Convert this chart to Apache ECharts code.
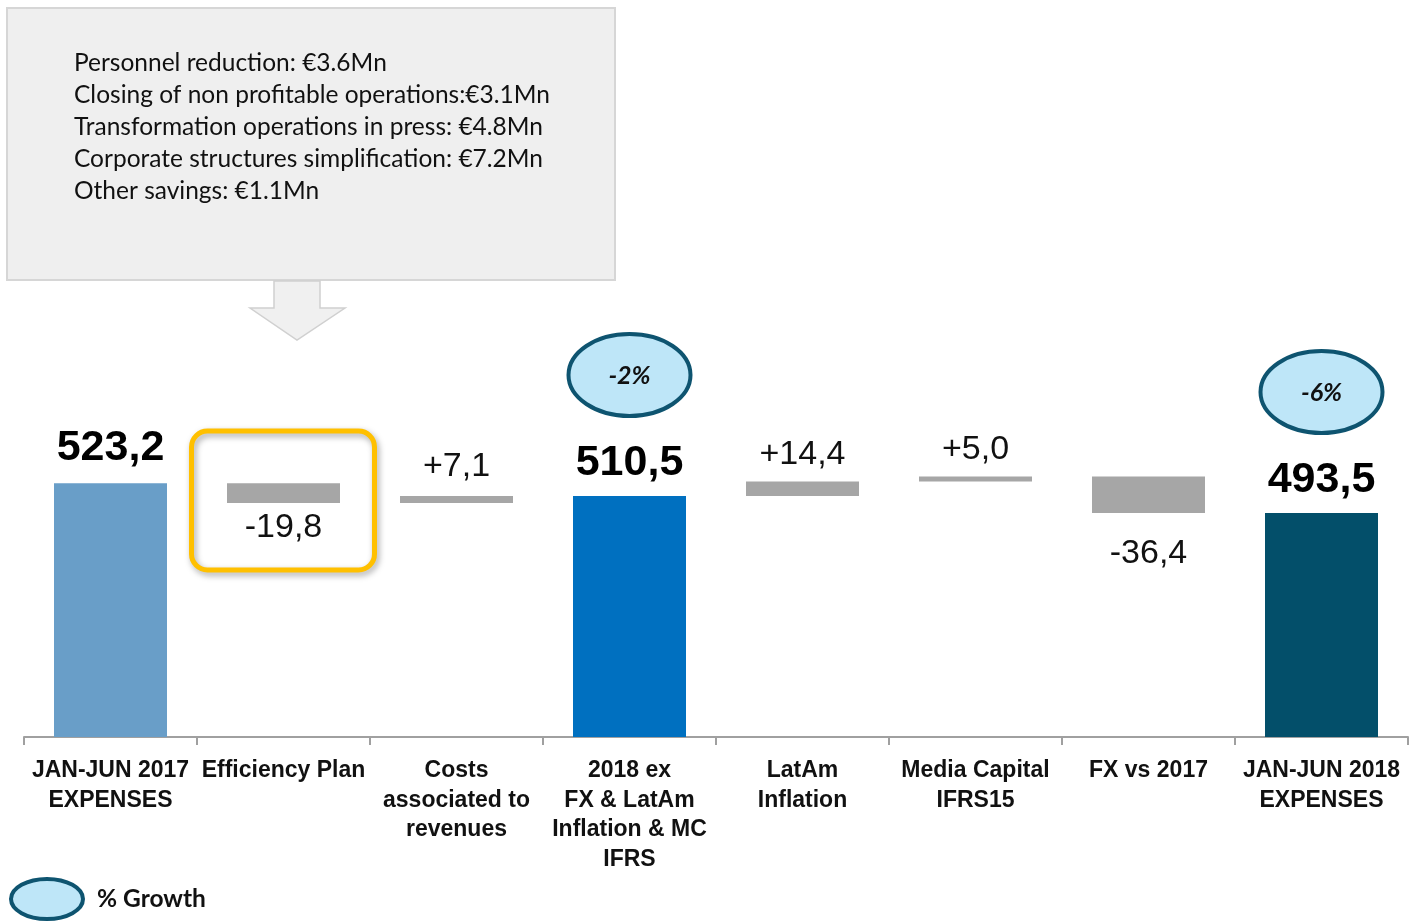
<!DOCTYPE html>
<html>
<head>
<meta charset="utf-8">
<title>Expenses bridge</title>
<script src="https://cdn.jsdelivr.net/npm/echarts@6/dist/echarts.min.js"></script>
<style>
  html, body { margin: 0; padding: 0; background: #fff; }
  #main { width: 1411px; height: 923px; }
</style>
</head>
<body>
<div id="main"></div>
<script>
// datos del puente de gastos
var categories = ['JAN-JUN 2017\nEXPENSES', 'Efficiency Plan', 'Costs\nassociated to\nrevenues',
  '2018 ex\nFX & LatAm\nInflation & MC\nIFRS', 'LatAm\nInflation', 'Media Capital\nIFRS15',
  'FX vs 2017', 'JAN-JUN 2018\nEXPENSES'];
var totals = [523.2, null, null, 510.5, null, null, null, 493.5];
var deltas = [null, -19.8, 7.1, null, 14.4, 5.0, -36.4, null];
var totalColors = ['#699EC8', null, null, '#0070C0', null, null, null, '#034F6A'];
var growth = [null, null, null, '-2%', null, null, null, '-6%'];
var noteLines = [
  'Personnel reduction: €3.6Mn',
  'Closing of non profitable operations:€3.1Mn',
  'Transformation operations in press: €4.8Mn',
  'Corporate structures simplification: €7.2Mn',
  'Other savings: €1.1Mn'
];

function fmt(v) { return v.toFixed(1).replace('.', ','); }

// separacion de etiquetas (como en la diapositiva original)
var labelGap = [14, 8, 12, 11, 10, 10, 24, 11];

// base invisible + barras
var base = [], totalData = [], deltaData = [];
var running = 0;
for (var i = 0; i < categories.length; i++) {
  if (totals[i] != null) {
    running = totals[i];
    base.push(0);
    totalData.push({ value: totals[i], itemStyle: { color: totalColors[i] }, label: { distance: labelGap[i] } });
    deltaData.push('-');
  } else {
    var d = deltas[i];
    var lo = d < 0 ? running + d : running;
    base.push(lo);
    totalData.push('-');
    deltaData.push({
      value: Math.abs(d),
      label: {
        position: d > 0 ? 'top' : 'bottom',
        distance: labelGap[i],
        formatter: (d > 0 ? '+' : '') + fmt(d)
      }
    });
    running = running + d;
  }
}

var myChart = echarts.init(document.getElementById('main'));

var option = {
  animation: false,
  grid: { left: 24, right: 3, top: 437, bottom: 186 },
  xAxis: {
    type: 'category',
    data: categories,
    axisLine: { lineStyle: { color: '#A0A0A0', width: 2 } },
    axisTick: { show: true, interval: 0, length: 8, lineStyle: { color: '#A0A0A0', width: 2 } },
    axisLabel: {
      interval: 0, margin: 19, color: '#111',
      fontFamily: 'Liberation Sans, Arial', fontWeight: 'bold', fontSize: 23, lineHeight: 29.5
    }
  },
  yAxis: { type: 'value', min: 269.5, max: 569.5, show: false, splitLine: { show: false } },
  series: [
    {
      type: 'bar', stack: 'w', barWidth: 113, data: base,
      itemStyle: { color: 'transparent' }, silent: true
    },
    {
      type: 'bar', stack: 'w', barWidth: 113, data: totalData,
      label: {
        show: true, position: 'top', color: '#000',
        fontFamily: 'Liberation Sans, Arial', fontWeight: 'bold', fontSize: 43,
        formatter: function (p) { return fmt(p.value); }
      }
    },
    {
      type: 'bar', stack: 'w', barWidth: 113, data: deltaData,
      itemStyle: { color: '#A6A6A6' },
      label: { show: true, color: '#111', fontFamily: 'Liberation Sans, Arial', fontSize: 34 }
    }
  ]
};
myChart.setOption(option);

// anotaciones
var g = [];
g.push({
  type: 'rect', shape: { x: 7, y: 8, width: 608, height: 272 },
  style: { fill: '#EFEFEF', stroke: '#D6D6D6', lineWidth: 2 }, z: 10
});
for (var k = 0; k < noteLines.length; k++) {
  g.push({
    type: 'text', x: 74, y: 63 + k * 32,
    style: { text: noteLines[k], fill: '#111', font: '24.5px Lato', verticalAlign: 'middle' }, z: 11
  });
}
g.push({
  type: 'polygon',
  shape: { points: [[274, 281], [320, 281], [320, 308], [345, 308], [297, 340], [250, 308], [274, 308]] },
  style: { fill: '#F0F0F0', stroke: '#D0D0D0', lineWidth: 1.5 }, z: 10
});

var c1 = myChart.convertToPixel({ xAxisIndex: 0 }, 1);
g.push({
  type: 'rect', shape: { x: c1 - 92, y: 431, width: 183, height: 139, r: 16 },
  style: { fill: 'none', stroke: '#FFC000', lineWidth: 5, shadowBlur: 6, shadowColor: 'rgba(0,0,0,0.35)', shadowOffsetX: 2, shadowOffsetY: 3 },
  z: 10
});

for (var j = 0; j < growth.length; j++) {
  if (!growth[j]) continue;
  var cx = myChart.convertToPixel({ xAxisIndex: 0 }, j);
  var cy = myChart.convertToPixel({ yAxisIndex: 0 }, totals[j]) - 121;
  g.push({
    type: 'ellipse', shape: { cx: cx, cy: cy, rx: 61, ry: 41 },
    style: { fill: '#BEE6F8', stroke: '#0E5470', lineWidth: 4 }, z: 10
  });
  g.push({
    type: 'text', x: cx, y: cy + 1,
    style: { text: growth[j], fill: '#111', font: 'italic bold 25px Lato', align: 'center', verticalAlign: 'middle' }, z: 11
  });
}

// leyenda
g.push({
  type: 'ellipse', shape: { cx: 47, cy: 899, rx: 36, ry: 20 },
  style: { fill: '#BEE6F8', stroke: '#0E5470', lineWidth: 4 }, z: 10
});
g.push({
  type: 'text', x: 97, y: 899,
  style: { text: '% Growth', fill: '#111', font: 'bold 24.5px Lato', verticalAlign: 'middle' }, z: 11
});

myChart.setOption({ graphic: g });
</script>
</body>
</html>
